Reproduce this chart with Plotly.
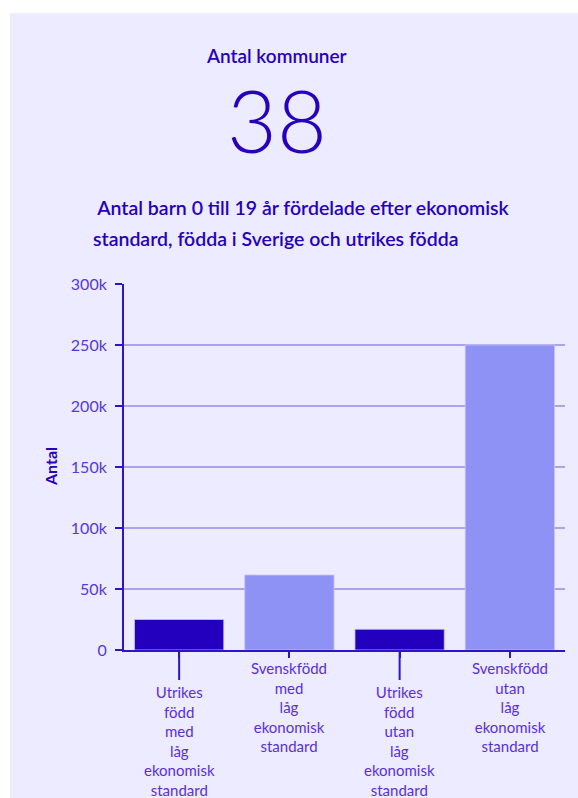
import plotly.graph_objects as go

# Data
categories = [
    "Utrikes född med låg ekonomisk standard",
    "Svenskfödd med låg ekonomisk standard",
    "Utrikes född utan låg ekonomisk standard",
    "Svenskfödd utan låg ekonomisk standard",
]
antal_barn = [25000, 61500, 17000, 250000]
y_tickvals = [0, 50000, 100000, 150000, 200000, 250000, 300000]
y_ticktext = ["0", "50k", "100k", "150k", "200k", "250k", "300k"]
antal_kommuner = 38

# Styling
W, H = 578, 798
PLOT_L, PLOT_R, PLOT_T, PLOT_B = 124, 565, 284, 650
PANEL = "#ECEBFF"
DARK = "#2200BE"
LIGHT = "#8F92F5"
TITLE_C = "#2600BC"
TICK_C = "#5538D6"
LABEL_C = "#5A30D4"
AXIS_C = "#2E14C8"
GRID_C = "#AAA5EA"
FONT = "Lato"
bar_colors = [DARK, LIGHT, DARK, LIGHT]


def px_x(p):
    return (p - PLOT_L) / (PLOT_R - PLOT_L)


def px_y(p):
    return (PLOT_B - p) / (PLOT_B - PLOT_T)


fig = go.Figure(
    go.Bar(
        x=categories,
        y=antal_barn,
        marker=dict(color=bar_colors, line=dict(color="rgba(200,198,245,0.8)", width=1)),
        hoverinfo="x+y",
    )
)

annotations = []

# Staggered category labels beneath the x axis
shapes = []
for i, cat in enumerate(categories):
    lowered = i % 2 == 0
    annotations.append(dict(
        x=cat, xref="x", y=0, yref="paper",
        text="<br>".join(cat.split()),
        showarrow=False, xanchor="center", yanchor="top",
        yshift=-31 if lowered else -7,
        font=dict(family=FONT, size=15, color=LABEL_C),
    ))
    if lowered:
        shapes.append(dict(
            type="line", xref="x", yref="paper",
            x0=cat, x1=cat, y0=0, y1=px_y(PLOT_B + 30),
            line=dict(color=AXIS_C, width=2), layer="above",
        ))

# Background panel
shapes.insert(0, dict(
    type="rect", xref="paper", yref="paper",
    x0=px_x(10), x1=px_x(W + 2), y0=px_y(H + 2), y1=px_y(13),
    fillcolor=PANEL, line=dict(width=0), layer="below",
))

# Headline figures and titles
annotations += [
    dict(x=px_x(276), y=px_y(55), xref="paper", yref="paper",
         text="Antal kommuner", showarrow=False, xanchor="center", yanchor="middle",
         font=dict(family=FONT, size=19, color=TITLE_C, weight=600)),
    dict(x=px_x(277), y=px_y(119), xref="paper", yref="paper",
         text=str(antal_kommuner), showarrow=False, xanchor="center", yanchor="middle",
         font=dict(family=FONT, size=86, color=TITLE_C, weight=300)),
    dict(x=px_x(91), y=px_y(207), xref="paper", yref="paper",
         text="\u00a0Antal barn 0 till 19 år fördelade efter ekonomisk",
         showarrow=False, xanchor="left", yanchor="middle",
         font=dict(family=FONT, size=19.5, color=TITLE_C, weight=600)),
    dict(x=px_x(91), y=px_y(238), xref="paper", yref="paper",
         text="standard, födda i Sverige och utrikes födda",
         showarrow=False, xanchor="left", yanchor="middle",
         font=dict(family=FONT, size=19.5, color=TITLE_C, weight=600)),
    dict(x=px_x(50), y=px_y(467), xref="paper", yref="paper",
         text="<b>Antal</b>", textangle=-90, showarrow=False,
         xanchor="center", yanchor="middle",
         font=dict(family=FONT, size=16, color=TITLE_C)),
]

fig.update_layout(
    width=W, height=H,
    margin=dict(l=PLOT_L, r=W - PLOT_R, t=PLOT_T, b=H - PLOT_B, pad=0),
    paper_bgcolor="white",
    plot_bgcolor=PANEL,
    bargap=0.19,
    showlegend=False,
    annotations=annotations,
    shapes=shapes,
    font=dict(family=FONT, color=TICK_C),
)

fig.update_xaxes(
    type="category", range=[-0.5, 3.5],
    showline=True, linecolor=AXIS_C, linewidth=2,
    ticks="outside", ticklen=6, tickwidth=2, tickcolor=AXIS_C,
    showticklabels=False, showgrid=False, zeroline=False, fixedrange=True,
)
fig.update_yaxes(
    range=[0, 300000],
    tickvals=y_tickvals, ticktext=y_ticktext,
    showline=True, linecolor=AXIS_C, linewidth=2,
    ticks="outside", ticklen=7, tickwidth=2, tickcolor=AXIS_C,
    ticklabelstandoff=5,
    tickfont=dict(family=FONT, size=16, color=TICK_C),
    showgrid=True, gridcolor=GRID_C, gridwidth=1.5,
    zeroline=False, fixedrange=True,
)

fig.write_html("out.html")
